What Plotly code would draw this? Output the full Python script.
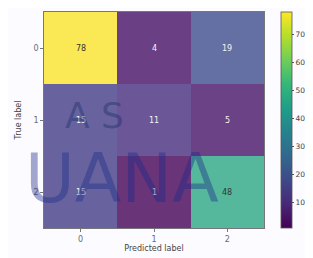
import plotly.graph_objects as go

labels = ["0", "1", "2"]
matrix = [
    [78, 4, 19],
    [15, 11, 5],
    [15, 1, 48],
]
cb_ticks = [10, 20, 30, 40, 50, 60, 70]

zmin, zmax = 1, 78
thr = (zmin + zmax) / 2
FONT = "DejaVu Sans"
W, H = 313, 258
OFF = 8  # page body margin offsets the figure on screen

def px(x):
    return (x - OFF) / W

def py(y):
    return 1 - (y - OFF) / H

fig = go.Figure()
fig.add_trace(go.Heatmap(
    z=matrix, x=labels, y=labels,
    colorscale="Viridis", zmin=zmin, zmax=zmax,
    colorbar=dict(
        x=px(281), xanchor="left", xpad=0, y=(py(12) + py(228)) / 2,
        yanchor="middle", ypad=0,
        len=216 / H, lenmode="fraction", thickness=11,
        outlinewidth=0.8, outlinecolor="#555",
        tickvals=cb_ticks, ticks="outside", ticklen=2, tickcolor="#555",
        tickfont=dict(family=FONT, size=7.5, color="#444"),
    ),
))

for i, row in enumerate(matrix):
    for j, v in enumerate(row):
        fig.add_annotation(
            x=labels[j], y=labels[i], text=str(v), showarrow=False,
            font=dict(family=FONT, size=8,
                      color="#333" if v > thr else "#f4f4f4"),
        )

# faint watermark text seen in the reference
fig.add_annotation(xref="paper", yref="paper", x=px(94), y=py(115), text="A S",
                   xanchor="center", yanchor="middle",
                   showarrow=False, opacity=0.4,
                   font=dict(family=FONT, size=36, color="#1a2a6a"))
fig.add_annotation(xref="paper", yref="paper", x=px(122), y=py(178), text="UANA",
                   xanchor="center", yanchor="middle",
                   showarrow=False, opacity=0.4,
                   font=dict(family=FONT, size=68, color="#1a2a8a"))

# light wash over the whole picture, as in the reference
fig.add_shape(type="rect", xref="paper", yref="paper", x0=0, x1=1, y0=0, y1=1,
              fillcolor="rgba(240,235,255,0.22)", line_width=0, layer="above")

axis_common = dict(
    tickfont=dict(family=FONT, size=8, color="#444"),
    ticks="outside", ticklen=3, tickcolor="#555",
    showline=True, linecolor="#555", linewidth=0.8, mirror=True,
    showgrid=False, zeroline=False,
)
fig.update_xaxes(
    domain=[px(44), px(264)],
    title=dict(text="Predicted label", standoff=2,
               font=dict(family=FONT, size=8, color="#444")),
    **axis_common,
)
fig.update_yaxes(
    domain=[py(228), py(12)], autorange="reversed",
    title=dict(text="True label", standoff=10,
               font=dict(family=FONT, size=8, color="#444")),
    **axis_common,
)
fig.update_layout(
    width=W, height=H, margin=dict(l=0, r=0, t=0, b=0),
    paper_bgcolor="white", plot_bgcolor="white", showlegend=False,
)
fig.write_html("out.html")
